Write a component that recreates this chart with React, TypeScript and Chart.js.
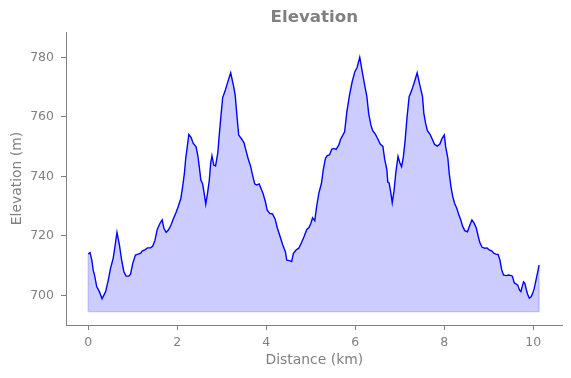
import React, { useEffect, useRef } from "react";
import { Chart, registerables } from "chart.js";

Chart.register(...registerables);

const distanceKm = [
  0.0, 0.04, 0.08, 0.11, 0.14, 0.19, 0.25, 0.31, 0.39, 0.45, 0.5, 0.56, 0.6, 0.645, 0.7, 0.75, 0.8, 0.85, 0.91, 0.95,
  1.0, 1.06, 1.12, 1.18, 1.21, 1.27, 1.33, 1.4, 1.45, 1.5, 1.55, 1.61, 1.66, 1.7, 1.75, 1.8, 1.86, 1.91, 1.97,
  2.02, 2.08, 2.12, 2.16, 2.19, 2.22, 2.26, 2.31, 2.36, 2.42, 2.46, 2.49, 2.53, 2.57, 2.61, 2.64, 2.68, 2.72, 2.75,
  2.78, 2.82, 2.86, 2.91, 2.94, 2.98, 3.02, 3.07, 3.12, 3.2, 3.26, 3.3, 3.34, 3.38, 3.45, 3.5, 3.54, 3.59, 3.65,
  3.69, 3.74, 3.78, 3.84, 3.88, 3.93, 3.98, 4.02, 4.08, 4.14, 4.2, 4.25, 4.31, 4.37, 4.43, 4.46, 4.52, 4.57, 4.61,
  4.67, 4.73, 4.79, 4.85, 4.91, 4.96, 5.0, 5.04, 5.09, 5.13, 5.18, 5.24, 5.28, 5.33, 5.37, 5.42, 5.47, 5.52, 5.57,
  5.63, 5.67, 5.72, 5.76, 5.81, 5.87, 5.93, 5.99, 6.04, 6.1, 6.15, 6.2, 6.26, 6.3, 6.35, 6.39, 6.45, 6.51, 6.56,
  6.62, 6.66, 6.71, 6.73, 6.76, 6.8, 6.83, 6.87, 6.91, 6.96, 7.0, 7.04, 7.08, 7.12, 7.16, 7.21, 7.27, 7.33, 7.39,
  7.45, 7.51, 7.54, 7.58, 7.62, 7.68, 7.73, 7.78, 7.84, 7.9, 7.95, 8.0, 8.03, 8.08, 8.11, 8.15, 8.19, 8.23, 8.28,
  8.32, 8.37, 8.41, 8.46, 8.52, 8.56, 8.62, 8.67, 8.72, 8.76, 8.8, 8.85, 8.91, 8.96, 9.01, 9.07, 9.11, 9.16, 9.21,
  9.25, 9.29, 9.33, 9.39, 9.45, 9.5, 9.53, 9.57, 9.61, 9.65, 9.69, 9.72, 9.75, 9.78, 9.81, 9.84, 9.87, 9.91, 9.95,
  9.99, 10.02, 10.06, 10.1, 10.13,
];

const elevationM = [
  714.0, 714.4, 711.9, 708.6, 706.9, 703.0, 701.3, 698.9, 701.3, 705.2, 709.1, 712.5, 716.4, 721.2, 717.0, 711.9, 708.0, 706.5, 706.5, 707.2,
  710.8, 713.6, 713.9, 714.2, 714.9, 715.3, 716.0, 716.0, 716.6, 718.6, 722.2, 724.2, 725.4, 722.6, 721.2, 722.0, 723.7, 725.7, 727.8,
  729.8, 732.6, 736.5, 741.0, 746.1, 749.4, 754.1, 753.1, 751.1, 750.0, 747.2, 743.8, 738.8, 737.5, 733.8, 730.7, 734.3, 738.8, 744.4,
  746.9, 743.8, 743.5, 747.8, 753.3, 760.1, 766.5, 768.5, 771.0, 774.8, 770.7, 767.5, 760.5, 753.9, 752.5, 751.3, 748.9, 746.1, 743.3,
  740.5, 737.5, 737.1, 737.5, 736.0, 734.1, 731.5, 728.7, 727.6, 727.4, 725.6, 722.6, 719.8, 717.0, 714.7, 711.9, 711.7, 711.4, 714.2,
  715.3, 715.9, 717.7, 719.8, 722.2, 722.8, 724.2, 726.1, 725.1, 729.8, 734.3, 737.7, 742.2, 746.1, 747.0, 747.2, 749.1, 749.4, 749.1,
  750.6, 752.5, 753.9, 755.0, 761.7, 767.3, 771.8, 775.2, 776.6, 780.0, 775.7, 771.5, 766.8, 761.2, 757.3, 755.4, 754.2, 752.5, 750.9,
  750.1, 745.8, 742.2, 738.1, 737.8, 734.3, 731.2, 735.1, 741.3, 746.7, 744.6, 743.3, 746.6, 752.2, 759.5, 766.8, 769.0, 771.8, 774.8,
  770.7, 766.8, 761.2, 757.8, 755.4, 754.1, 752.5, 750.8, 750.2, 750.9, 752.8, 753.9, 750.0, 746.1, 741.0, 736.5, 733.2, 731.0, 729.3,
  727.4, 725.4, 723.3, 721.8, 721.4, 723.1, 725.4, 724.3, 722.6, 720.0, 717.7, 716.2, 715.9, 716.0, 715.3, 714.9, 714.2, 713.9, 713.8,
  711.9, 708.6, 706.9, 706.7, 706.9, 706.7, 706.5, 704.3, 703.9, 703.5, 701.8, 701.3, 703.0, 704.6, 704.1, 702.1, 700.5, 699.1, 699.6,
  700.9, 702.4, 705.2, 708.0, 710.2,
];

const baselineM = 694.6;
const xTickValues = [0, 2, 4, 6, 8, 10];
const yTickValues = [700, 720, 740, 760, 780];
const xRange = [-0.5, 10.66];
const yRange = [690.1, 788.5];

const GRAY = "#808080";
const FONT = "DejaVu Sans";

export default function App() {
  const ref = useRef<HTMLCanvasElement | null>(null);

  useEffect(() => {
    if (!ref.current) return;
    const linePts = distanceKm.map((x, i) => ({ x, y: elevationM[i] }));
    const last = distanceKm.length - 1;
    const edgePts = [
      { x: distanceKm[0], y: elevationM[0] },
      { x: distanceKm[0], y: baselineM },
      { x: distanceKm[last], y: baselineM },
      { x: distanceKm[last], y: elevationM[last] },
    ];
    const chart = new Chart(ref.current, {
      type: "line",
      data: {
        datasets: [
          {
            data: linePts,
            borderColor: "#0000ff",
            borderWidth: 1.4,
            backgroundColor: "rgba(0,0,255,0.2)",
            fill: { value: baselineM },
            pointRadius: 0,
            tension: 0,
            order: 1,
          },
          {
            data: edgePts,
            borderColor: "rgba(0,0,255,0.2)",
            borderWidth: 1.4,
            fill: false,
            pointRadius: 0,
            tension: 0,
            order: 2,
          },
        ],
      },
      options: {
        responsive: false,
        animation: false,
        layout: { padding: { left: 0, right: 8.3, top: 0, bottom: 0 } },
        plugins: {
          legend: { display: false },
          tooltip: { enabled: false },
          title: {
            display: true,
            text: "Elevation",
            fullSize: false,
            color: GRAY,
            font: { family: FONT, size: 16.7, weight: "bold", lineHeight: 1.2 },
            padding: { top: 8, bottom: 4 },
          },
        },
        scales: {
          x: {
            type: "linear",
            min: xRange[0],
            max: xRange[1],
            afterFit: (s: any) => {
              s.height = 53;
            },
            afterBuildTicks: (s: any) => {
              s.ticks = xTickValues.map((v) => ({ value: v }));
            },
            grid: {
              drawOnChartArea: false,
              drawTicks: true,
              tickLength: 5,
              tickColor: GRAY,
              tickWidth: 1,
            },
            border: { display: true, color: GRAY, width: 1 },
            ticks: {
              color: GRAY,
              font: { family: FONT, size: 12.5 },
              padding: 5,
              maxRotation: 0,
              callback: (v: any) => String(v),
            },
            title: {
              display: true,
              text: "Distance (km)",
              color: GRAY,
              font: { family: FONT, size: 13.9, lineHeight: 1.2 },
              padding: { top: 0, bottom: 9 },
            },
          },
          y: {
            type: "linear",
            min: yRange[0],
            max: yRange[1],
            afterFit: (s: any) => {
              s.width = 66;
            },
            afterBuildTicks: (s: any) => {
              s.ticks = yTickValues.map((v) => ({ value: v }));
            },
            grid: {
              drawOnChartArea: false,
              drawTicks: true,
              tickLength: 5,
              tickColor: GRAY,
              tickWidth: 1,
            },
            border: { display: true, color: GRAY, width: 1 },
            ticks: {
              color: GRAY,
              font: { family: FONT, size: 12.5 },
              padding: 7,
              callback: (v: any) => String(v),
            },
            title: {
              display: true,
              text: "Elevation (m)",
              color: GRAY,
              font: { family: FONT, size: 13.9, lineHeight: 1.2 },
              padding: { top: 8.8, bottom: 0 },
            },
          },
        },
      },
    });
    return () => chart.destroy();
  }, []);

  return (
    <div style={{ position: "fixed", left: 0, top: 0, width: 571, height: 378, background: "#fff" }}>
      <canvas ref={ref} width={571} height={378} style={{ display: "block", width: 571, height: 378 }} />
    </div>
  );
}
